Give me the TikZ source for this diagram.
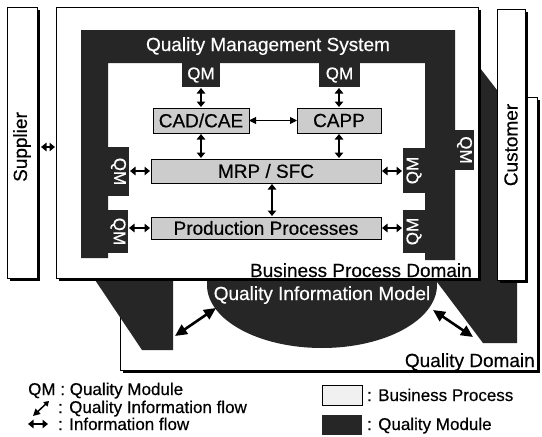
\documentclass[tikz,border=0pt]{standalone}
\usepackage{fontspec}
\setmainfont{Liberation Sans}[FakeBold=0.4]
\usetikzlibrary{arrows.meta,shadows,shapes.geometric}
\definecolor{qdark}{gray}{0.15}
\definecolor{qlight}{gray}{0.80}
\begin{document}
\begin{tikzpicture}[x=1pt,y=-1pt,
  big/.style={font=\fontsize{19}{22}\selectfont},
  leg/.style={font=\fontsize{17}{20}\selectfont, inner sep=0pt},
  domainbox/.style={draw=black, line width=0.8pt, fill=white, inner sep=0pt, outer sep=0pt,
    drop shadow={shadow xshift=3pt, shadow yshift=-3pt, fill=black, opacity=1}},
  qm/.style={fill=qdark, inner sep=0pt, outer sep=0pt, text=white, font=\fontsize{17}{20}\selectfont},
  bp/.style={draw=black, line width=0.8pt, fill=qlight, inner sep=0pt, outer sep=0pt, big},
  inf/.style={line width=1.6pt, {Triangle[length=5.5pt,width=8.5pt]}-{Triangle[length=5.5pt,width=8.5pt]}, shorten <=1pt, shorten >=1pt},
  thinflow/.style={line width=1pt, {Triangle[length=7pt,width=7pt]}-{Triangle[length=7pt,width=7pt]}},
  qiflow/.style={line width=2.6pt, {Triangle[length=12pt,width=11pt]}-{Triangle[length=12pt,width=11pt]}},
  qismall/.style={line width=1.5pt, {Triangle[length=7pt,width=7pt]}-{Triangle[length=5pt,width=6pt]}}
]
\useasboundingbox (0,0) rectangle (542,437);
\fill[white] (0,0) rectangle (542,437);

% Quality Domain
\node[domainbox, minimum width=417pt, minimum height=273pt] (qd) at (328.5,233.5) {};
% dark quality areas reaching into the quality domain
\fill[qdark] (87,268) -- (142,350) -- (173,350) -- (173,268) -- cycle;
\fill[qdark] (428,270) -- (483,343) -- (517,343) -- (517,116) -- (440,16) -- cycle;
% Quality information model
\node[ellipse, fill=qdark, minimum width=230pt, minimum height=126pt, inner sep=0pt] (qim) at (322,285) {};

% Business process domain, supplier, customer
\node[domainbox, minimum width=422pt, minimum height=271pt] (bpd) at (267,142.5) {};
\node[domainbox, minimum width=30pt, minimum height=271pt] (sup) at (22,142.5) {};
\node[domainbox, minimum width=28pt, minimum height=271pt] (cust) at (511,144.5) {};

\node[big, text=white, anchor=base] (qimlabel) at (322,300) {Quality Information Model};
\node[big, rotate=90] (suplabel) at (22,147) {Supplier};
\node[big, rotate=90] (custlabel) at (511,145) {Customer};
\node[big, anchor=base east, inner sep=0pt] (bpdlabel) at (472,277) {Business Process Domain};
\node[big, anchor=base east, inner sep=0pt] (qdlabel) at (535,367) {Quality Domain};

% Quality management system frame
\fill[qdark] (81,30) -- (455,30) -- (455,260) -- (425,260) -- (425,63) -- (108,63) -- (108,258) -- (81,258) -- cycle;
\node[big, text=white, anchor=base] (qmstitle) at (268,51) {Quality Management System};

% Quality modules
\node[qm, minimum width=38pt, minimum height=24pt] (qmt1) at (201,75) {QM};
\node[qm, minimum width=41pt, minimum height=24pt] (qmt2) at (339.5,75) {QM};
\node[qm, minimum width=21pt, minimum height=49pt] (qml1) at (118.5,171.5) {\rotatebox{-90}{QM}};
\node[qm, minimum width=20pt, minimum height=43pt] (qml2) at (118,231.5) {\rotatebox{-90}{QM}};
\node[qm, minimum width=22pt, minimum height=45pt] (qmr1) at (414,170.5) {\rotatebox{90}{QM}};
\node[qm, minimum width=22pt, minimum height=43pt] (qmr2) at (414,231.5) {\rotatebox{90}{QM}};
\node[qm, minimum width=19pt, minimum height=40pt] (qmo) at (464.5,150) {\rotatebox{-90}{QM}};

% Business processes
\node[bp, minimum width=96pt, minimum height=25pt] (cad) at (201,120.5) {CAD/CAE};
\node[bp, minimum width=84pt, minimum height=25pt] (capp) at (339,120.5) {CAPP};
\node[bp, minimum width=230pt, minimum height=24pt] (mrp) at (266,171) {MRP / SFC};
\node[bp, minimum width=230pt, minimum height=22pt] (prod) at (266,228) {Production Processes};

% Information flows
\draw[inf] (qmt1) -- (cad);
\draw[inf] (cad.south) -- (cad.south |- mrp.north);
\draw[inf] (capp.north |- qmt2.south) -- (capp.north);
\draw[inf] (capp.south) -- (capp.south |- mrp.north);
\draw[inf] ([xshift=6pt]mrp.south) -- ([xshift=6pt]prod.north);
\draw[thinflow] (cad) -- (capp);
\draw[inf] (qml1.east |- mrp.west) -- (mrp.west);
\draw[inf] (qml2.east |- prod.west) -- (prod.west);
\draw[inf] (mrp.east) -- (mrp.east -| qmr1.west);
\draw[inf] (prod.east) -- (prod.east -| qmr2.west);
\draw[inf] ([xshift=3pt,yshift=-4.5pt]sup.east) -- ([yshift=-4.5pt]sup.east -| bpd.west);

% Quality information flows
\coordinate (lqa) at (175,336);
\coordinate (lqb) at (216,308);
\draw[qiflow] (lqa) -- (lqb);
\coordinate (rqa) at (433,310);
\coordinate (rqb) at (473,337);
\draw[qiflow] (rqa) -- (rqb);

% Legend
\node[leg, anchor=base west] (l1) at (28,395) {QM : Quality Module};
\coordinate (lia) at (33,416);
\coordinate (lib) at (49,401);
\draw[qismall] (lia) -- (lib);
\node[leg, anchor=base west] (l2) at (58,413) {: Quality Information flow};
\coordinate (lic) at (27,424);
\coordinate (lid) at (49,424);
\draw[inf] (lic) -- (lid);
\node[leg, anchor=base west] (l3) at (58,430) {: Information flow};
\node[draw=black, line width=0.7pt, fill=black!6, minimum width=40pt, minimum height=20pt, inner sep=0pt] (lbp) at (342,395) {};
\node[leg, anchor=base west] (l4) at (367,401) {: Business Process};
\node[fill=qdark, minimum width=40pt, minimum height=20pt, inner sep=0pt] (lqm) at (342,425) {};
\node[leg, anchor=base west] (l5) at (367,430) {: Quality Module};
\end{tikzpicture}
\end{document}
